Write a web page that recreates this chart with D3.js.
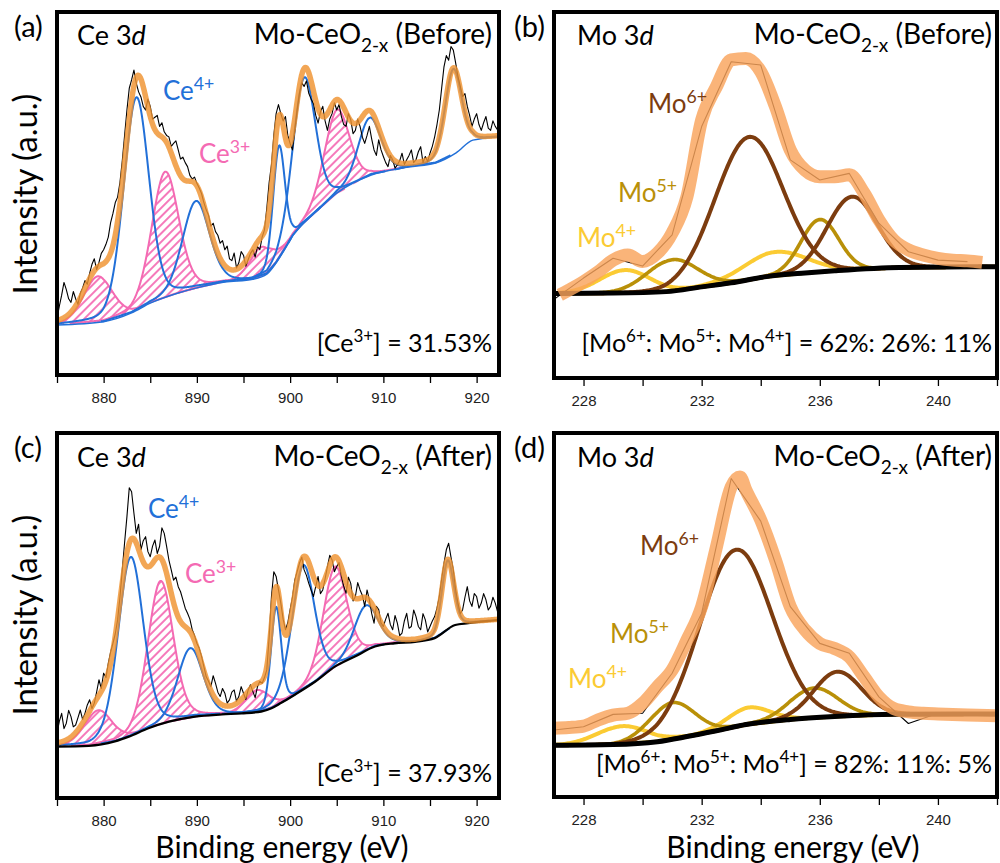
<!DOCTYPE html>
<html>
<head>
<meta charset="utf-8">
<script src="https://cdn.jsdelivr.net/npm/d3@7/dist/d3.min.js"></script>
<style>
  body { margin: 0; background: #fff; }
  svg text { font-family: Lato, "Open Sans", sans-serif; }
  .tick text { font-family: "Liberation Sans", Arial, sans-serif; font-size: 15px; }
</style>
</head>
<body>
<svg id="fig" width="1000" height="863"></svg>
<script>
// intensities are arbitrary units, 0-100 over each panel's height

// axes
const ceTicks = [875, 880, 885, 890, 895, 900, 905, 910, 915, 920];
const ceTickLabels = [880, 890, 900, 910, 920];
const moTicks = [228, 230, 232, 234, 236, 238, 240, 242];
const moTickLabels = [228, 232, 236, 240];

// (a) Ce 3d, before -- raw counts every 0.25 eV from 875 eV (one row = 5 eV)
const rawA = [
  15.5, 19, 22, 25.5, 23.5, 21, 20, 23, 21, 19.5, 22.5, 24, 26, 25, 28, 30.5, 32, 29, 31, 33.5,
  34.5, 36, 38, 42, 44.5, 47.5, 49, 53, 59, 66, 73, 79, 81.3, 84, 80.4, 78, 76.6, 74, 73, 76,
  74, 70.5, 71, 71.5, 68.5, 69.5, 67, 66, 65.6, 63, 63.8, 64.5, 62, 59.5, 60, 58.5, 57.4, 55, 54, 54.5,
  52.8, 51.5, 50, 47.5, 45.5, 44, 41, 41.8, 39.5, 38.5, 36.3, 37, 34.5, 35.5, 32, 31.5, 33.6, 29.5, 30.9, 34,
  33, 30, 31.8, 33.5, 34.5, 32.5, 35.4, 34.5, 38, 40, 46, 53, 58, 66, 72, 74.5, 72, 70, 71.2, 66,
  63.8, 62, 67.4, 73, 77.6, 80.5, 79.5, 81, 77.6, 76, 74.8, 71.5, 69.4, 72.5, 74, 70, 67.4, 70.5, 72, 75,
  73, 74.5, 71.2, 69, 68.5, 72, 70.3, 66.5, 67.4, 70.5, 68.5, 65.5, 63.8, 66, 68.5, 65, 62, 60.5, 64.8, 62,
  60.2, 58.5, 57.4, 60.5, 59.3, 57, 57.9, 59, 61.1, 58, 59.3, 60.5, 62, 58.5, 59.3, 61.5, 62.9, 58.5, 60.2, 58.8,
  61.1, 63, 65.6, 69, 73, 79, 84.9, 88, 86.7, 90.5, 89.5, 86, 82.2, 79.5, 76.7, 77.5, 74, 71.5, 68.5, 70.5,
  72, 69, 67.4, 69.5, 71.2, 68, 67.4, 70, 68.5, 67.5, 66.7];
const bgA = [[875, 13.8], [880, 14.7], [883, 17.1], [885, 19.8], [888, 22.6], [890, 24.0],
  [893, 25.6], [896, 26.4], [897.5, 27.8], [898.5, 30.9], [899.5, 35], [900.3, 38.5],
  [901.2, 41.2], [903, 45.5], [905, 50.1], [908.7, 55.1], [912.7, 57.3], [915.6, 58.4],
  [917.8, 61.2], [919.6, 64.7], [922.5, 65.6]];
const ce4CenterA = [883.5, 889.9, 898.8, 901.5, 908.5, 917.5];
const ce4HeightA = [58.7, 24, 31, 40, 16, 23.5];
const ce4FwhmA = [3.2, 3.4, 1.5, 2.9, 2.9, 2.1];
const ce3CenterA = [879.4, 886.6, 896.9, 905.0];
const ce3HeightA = [12.6, 34.7, 8, 23];
const ce3FwhmA = [3.6, 3.4, 3.0, 3.2];

// (c) Ce 3d, after
const rawC = [
  17.7, 21, 23.2, 19, 20.5, 24, 22.3, 19.5, 20.0, 22, 24.1, 21.5, 23.2, 25.5, 26.9, 24.5, 26.0, 29, 32.4, 30,
  34.2, 33, 36.9, 40, 42.4, 45, 48.8, 55, 62.5, 70, 77.1, 85, 83.9, 78, 72.5, 75, 68, 70.5, 71.6, 67.5,
  66.1, 69, 70.7, 67, 68.9, 74, 72.5, 69, 65.2, 62.5, 59.7, 60.5, 57.9, 56.5, 54.3, 52, 50.6, 49, 46.1, 44.5,
  42.4, 41, 38.8, 36, 33.2, 32, 30.5, 33.5, 31.4, 29, 27.8, 30, 28.7, 26, 26.9, 29, 29.6, 26.5, 27.8, 30.5,
  28.7, 27, 29.6, 31, 29.2, 27.5, 30.5, 32, 31.4, 33, 35.1, 44, 55.2, 62, 60.7, 57, 53.4, 49, 46.1, 48,
  51.6, 55, 59.7, 62, 64.3, 66, 62.5, 61, 58.8, 57, 55.2, 58, 60.7, 56, 57.0, 60, 63.4, 66.5, 65.2, 62,
  63.4, 64.5, 60.7, 58, 56.1, 60.5, 58.8, 54, 55.2, 59, 57.0, 55.5, 52.5, 57, 54.3, 50.5, 47.9, 52.5, 51.6, 48,
  47.0, 49, 50.6, 47.5, 46.1, 50, 47.9, 44.5, 45.2, 48.5, 50.6, 46.5, 47.0, 51.5, 49.7, 47, 46.1, 50.5, 48.8, 45.5,
  47.0, 48.5, 49.7, 52, 55.2, 60, 64.3, 68, 69.8, 66, 62.5, 57, 53.4, 50.5, 51.6, 55, 57.9, 54, 52.5, 56,
  55.2, 52, 53.4, 56, 54.3, 51.5, 52.5, 55, 53.4, 51, 51.6];
const bgC = [[875, 14.1], [878.4, 14.3], [881.2, 15.5], [882.7, 16.8], [884.8, 19.1], [887, 20.9],
  [889.8, 22.3], [892.7, 22.9], [894.8, 23.2], [896.9, 23.7], [898, 24.6], [899, 26],
  [900.5, 28.3], [902.7, 31.9], [904.8, 36], [906.9, 38.7], [909.1, 41.5], [911.2, 42.4],
  [913.4, 42.8], [915.5, 43.8], [917.7, 47.4], [919.1, 47.9], [922.5, 48.8]];
const ce4CenterC = [882.9, 889.3, 898.5, 901.4, 908.1, 916.9];
const ce4HeightC = [49, 19, 27, 34, 12.5, 19];
const ce4FwhmC = [3.2, 3.2, 1.3, 2.9, 3.0, 1.5];
const ce3CenterC = [879.4, 886.1, 896.5, 904.8];
const ce3HeightC = [9.3, 39.3, 6, 27.4];
const ce3FwhmC = [3.5, 3.2, 3.0, 3.0];

// (b) Mo 3d, before -- raw counts every 1 eV from 227 eV
const rawB = [21.5, 27.3, 32.7, 30.6, 39.1, 68.7, 86.4, 85.5, 59.6, 54.1, 55.9, 42.3, 34.5, 32.2, 31.8];
const envB = [[227.2, 22.7], [227.5, 24], [228, 26.3], [228.5, 29], [229, 32.2], [229.5, 33.6],
  [230, 31.8], [230.5, 34.1], [231, 39.6], [231.5, 49.5], [232, 70.5], [232.5, 79.6],
  [233, 86.9], [233.5, 87.3], [234, 83.7], [234.5, 74.1], [235, 62.3], [235.5, 56.8],
  [236, 55], [236.5, 55], [237, 55.5], [237.5, 50.5], [238, 43.2], [238.5, 37.7],
  [239, 35], [239.5, 33.6], [240, 32.7], [240.5, 32.2], [241, 32], [241.5, 31.6]];
const bgB = [[227, 23.1], [229, 23.2], [230.8, 23.6], [232, 24.9], [233, 26.0], [234.2, 27.7],
  [235.5, 28.7], [236.5, 29.3], [238.7, 30.2], [242, 30.4]];
const mo6CenterB = [233.6, 237.1], mo6HeightB = [39, 20], mo6FwhmB = [2.7, 2.0];
const mo5CenterB = [231.0, 236.0], mo5HeightB = [8.5, 14.3], mo5FwhmB = [2.0, 1.5];
const mo4CenterB = [229.4, 234.5], mo4HeightB = [6.2, 6.5], mo4FwhmB = [2.0, 2.5];

// (d) Mo 3d, after
const rawD = [18.4, 19.3, 22.7, 23, 34, 50.5, 87.5, 75.8, 52.3, 42.2, 39.5, 27.5, 20.2, 23, 22.5, 22.3];
const envD = [[227, 18.9], [227.5, 19.1], [228, 19.5], [228.5, 21.2], [229, 22.5], [229.5, 23],
  [230, 25.7], [230.5, 30.3], [231, 34.9], [231.5, 43.1], [232, 52.3], [232.5, 68.7],
  [233, 85.2], [233.3, 87.9], [233.5, 84.3], [234, 76.1], [234.5, 65.1], [235, 52.3],
  [235.5, 45.9], [236, 42.2], [236.5, 40.8], [237, 38.5], [237.5, 33], [238, 27.5],
  [238.5, 24.3], [239, 23.4], [239.5, 23], [240, 22.8], [241, 22.5], [242, 22.3]];
const bgD = [[227, 14.2], [229, 14.4], [230.5, 15.2], [231.5, 16.6], [232.5, 18.2], [233.5, 19.9],
  [235, 21.3], [236.5, 22.1], [238.5, 22.7], [242, 22.8]];
const mo6CenterD = [233.15, 236.6], mo6HeightD = [48.6, 12.3], mo6FwhmD = [2.9, 1.9];
const mo5CenterD = [231.0, 235.8], mo5HeightD = [10, 8.2], mo5FwhmD = [1.8, 1.9];
const mo4CenterD = [229.3, 233.6], mo4HeightD = [4.9, 4.6], mo4FwhmD = [2.0, 1.7];

// colours
const blue = "#2270d8", pink = "#f46ab3", orangeCe = "#ef9330", orangeMo = "#f9a35b";
const brown = "#7c3c0f", gold = "#b99008", yellow = "#fbcb33";

const svg = d3.select("#fig");
const defs = svg.append("defs");
const hatch = defs.append("pattern").attr("id", "hatch")
  .attr("patternUnits", "userSpaceOnUse").attr("width", 6).attr("height", 6)
  .attr("patternTransform", "rotate(45)");
hatch.append("line").attr("x1", 3).attr("y1", 0).attr("x2", 3).attr("y2", 6)
  .attr("stroke", pink).attr("stroke-width", 1.8);

// Gaussian-Lorentzian line shape (m = Lorentzian share)
function peak(e, c, h, w, m) {
  const t = (e - c) / w;
  return h * (m / (1 + 4 * t * t) + (1 - m) * Math.exp(-4 * Math.LN2 * t * t));
}

// text with sub/superscripts and italics
function richText(x, y, parts, size, color, anchor) {
  const t = svg.append("text").attr("x", x).attr("y", y).attr("font-size", size)
    .attr("fill", color).attr("text-anchor", anchor || "start");
  let shift = 0;
  parts.forEach(([s, mode]) => {
    const sp = t.append("tspan").text(s);
    const target = mode === "sup" ? -0.4 * size : mode === "sub" ? 0.3 * size : 0;
    if (target - shift !== 0) sp.attr("dy", target - shift);
    shift = target;
    if (mode === "sup" || mode === "sub") sp.attr("font-size", size * 0.68);
    if (mode === "it") sp.attr("font-style", "italic");
  });
  return t;
}

function drawPanel(p) {
  const {x0, y0, x1, y1} = p.box;
  const [lo, hi] = p.domain;
  const x = d3.scaleLinear().domain(p.domain).range([x0, x1]);
  const y = d3.scaleLinear().domain([0, 100]).range([y1, y0]);
  const bg = d3.scaleLinear().domain(p.bg.map(d => d[0])).range(p.bg.map(d => d[1])).clamp(true);

  defs.append("clipPath").attr("id", "clip-" + p.id).append("rect")
    .attr("x", x0).attr("y", y0).attr("width", x1 - x0).attr("height", y1 - y0);
  const g = svg.append("g").attr("clip-path", `url(#clip-${p.id})`);

  const line = d3.line().x(d => x(d[0])).y(d => y(d[1]));
  const topLine = d3.line().x(d => x(d[0])).y(d => y(d[2]));
  const area = d3.area().x(d => x(d[0])).y0(d => y(d[1])).y1(d => y(d[2]));

  // each component sits on the background
  const compCurves = p.comps.map(c => c.center.map((ctr, i) => {
    const w = c.fwhm[i];
    return d3.range(Math.max(lo, ctr - 3 * w), Math.min(hi, ctr + 3 * w), 0.04)
      .map(e => [e, bg(e), bg(e) + peak(e, ctr, c.height[i], w, p.mix)]);
  }));

  p.comps.forEach((c, k) => {
    if (!c.hatch) return;
    compCurves[k].forEach(pts => g.append("path").datum(pts).attr("d", area).attr("fill", "url(#hatch)"));
  });
  p.comps.forEach((c, k) => {
    compCurves[k].forEach(pts => g.append("path").datum(pts).attr("d", topLine)
      .attr("fill", "none").attr("stroke", c.color).attr("stroke-width", c.width));
  });

  // background
  g.append("path").datum(p.bg).attr("d", line.curve(d3.curveMonotoneX))
    .attr("fill", "none").attr("stroke", p.bgColor).attr("stroke-width", p.bgWidth);
  line.curve(d3.curveLinear);

  // raw data
  const rawPts = p.raw.map((v, i) => [p.rawStart + i * p.rawStep, v]);
  g.append("path").datum(rawPts).attr("d", line)
    .attr("fill", "none").attr("stroke", "#000").attr("stroke-width", 1.1)
    .attr("stroke-linejoin", "round");

  // envelope
  let envPts;
  if (p.env) {
    envPts = p.env;
  } else {
    envPts = d3.range(lo, hi + 0.02, 0.04).map(e => {
      let s = bg(e);
      p.comps.forEach(c => c.center.forEach((ctr, i) => { s += peak(e, ctr, c.height[i], c.fwhm[i], p.mix); }));
      return [e, s];
    });
  }
  g.append("path").datum(envPts).attr("d", line.curve(d3.curveMonotoneX))
    .attr("fill", "none").attr("stroke", p.envColor).attr("stroke-width", p.envWidth)
    .attr("stroke-opacity", 0.82).attr("stroke-linejoin", "round").attr("stroke-linecap", "butt");
  line.curve(d3.curveLinear);

  // x axis
  const axis = d3.axisBottom(x).tickValues(p.ticks).tickSize(6).tickPadding(9)
    .tickFormat(d => p.tickLabels.includes(d) ? d : "");
  const ax = svg.append("g").attr("transform", `translate(0,${y1 + 2})`).call(axis);
  ax.select(".domain").remove();
  ax.selectAll(".tick line").attr("stroke", "#000").attr("stroke-width", 1.3);
  ax.selectAll(".tick text").attr("fill", "#222");

  // frame
  svg.append("rect").attr("x", x0).attr("y", y0).attr("width", x1 - x0).attr("height", y1 - y0)
    .attr("fill", "none").attr("stroke", "#000").attr("stroke-width", 4);
}

drawPanel({
  id: "a", box: {x0: 57, y0: 12, x1: 499, y1: 375}, domain: [875, 922.4],
  ticks: ceTicks, tickLabels: ceTickLabels, mix: 0.2,
  raw: rawA, rawStart: 875, rawStep: 0.25, bg: bgA, bgColor: blue, bgWidth: 1.5,
  envColor: orangeCe, envWidth: 5.5,
  comps: [
    {center: ce3CenterA, height: ce3HeightA, fwhm: ce3FwhmA, color: pink, width: 2, hatch: true},
    {center: ce4CenterA, height: ce4HeightA, fwhm: ce4FwhmA, color: blue, width: 2}
  ]
});
drawPanel({
  id: "c", box: {x0: 57, y0: 433, x1: 499, y1: 798}, domain: [875, 922.4],
  ticks: ceTicks, tickLabels: ceTickLabels, mix: 0.2,
  raw: rawC, rawStart: 875, rawStep: 0.25, bg: bgC, bgColor: "#000", bgWidth: 2.3,
  envColor: orangeCe, envWidth: 5.5,
  comps: [
    {center: ce3CenterC, height: ce3HeightC, fwhm: ce3FwhmC, color: pink, width: 2, hatch: true},
    {center: ce4CenterC, height: ce4HeightC, fwhm: ce4FwhmC, color: blue, width: 2}
  ]
});
drawPanel({
  id: "b", box: {x0: 554, y0: 12, x1: 997, y1: 378}, domain: [227, 242],
  ticks: moTicks, tickLabels: moTickLabels, mix: 0,
  raw: rawB, rawStart: 227, rawStep: 1, bg: bgB, bgColor: "#000", bgWidth: 5,
  env: envB, envColor: orangeMo, envWidth: 13,
  comps: [
    {center: mo4CenterB, height: mo4HeightB, fwhm: mo4FwhmB, color: yellow, width: 4},
    {center: mo5CenterB, height: mo5HeightB, fwhm: mo5FwhmB, color: gold, width: 3.6},
    {center: mo6CenterB, height: mo6HeightB, fwhm: mo6FwhmB, color: brown, width: 4}
  ]
});
drawPanel({
  id: "d", box: {x0: 554, y0: 433, x1: 997, y1: 797}, domain: [227, 242],
  ticks: moTicks, tickLabels: moTickLabels, mix: 0,
  raw: rawD, rawStart: 227, rawStep: 1, bg: bgD, bgColor: "#000", bgWidth: 5,
  env: envD, envColor: orangeMo, envWidth: 13,
  comps: [
    {center: mo4CenterD, height: mo4HeightD, fwhm: mo4FwhmD, color: yellow, width: 4},
    {center: mo5CenterD, height: mo5HeightD, fwhm: mo5FwhmD, color: gold, width: 3.6},
    {center: mo6CenterD, height: mo6HeightD, fwhm: mo6FwhmD, color: brown, width: 4}
  ]
});

// panel letters and titles
[["(a)", 14, 37], ["(b)", 514, 37], ["(c)", 14, 458], ["(d)", 514, 458]].forEach(([s, px, py]) =>
  svg.append("text").attr("x", px).attr("y", py).attr("font-size", 29).text(s));

const ts = 27;
richText(77, 45, [["Ce 3"], ["d", "it"]], ts, "#000");
richText(77, 467, [["Ce 3"], ["d", "it"]], ts, "#000");
richText(577, 45, [["Mo 3"], ["d", "it"]], ts, "#000");
richText(577, 467, [["Mo 3"], ["d", "it"]], ts, "#000");
richText(492, 44, [["Mo-CeO"], ["2-x", "sub"], [" (Before)"]], 28, "#000", "end");
richText(992, 44, [["Mo-CeO"], ["2-x", "sub"], [" (Before)"]], 28, "#000", "end");
richText(492, 466, [["Mo-CeO"], ["2-x", "sub"], [" (After)"]], 28, "#000", "end");
richText(992, 466, [["Mo-CeO"], ["2-x", "sub"], [" (After)"]], 28, "#000", "end");

// species labels
const ls = 26;
richText(163, 100, [["Ce"], ["4+", "sup"]], ls, blue);
richText(199, 163, [["Ce"], ["3+", "sup"]], ls, pink);
richText(148, 518, [["Ce"], ["4+", "sup"]], ls, blue);
richText(185, 583, [["Ce"], ["3+", "sup"]], ls, pink);
richText(648, 113, [["Mo"], ["6+", "sup"]], ls, brown);
richText(618, 202, [["Mo"], ["5+", "sup"]], ls, gold);
richText(577, 247, [["Mo"], ["4+", "sup"]], ls, yellow);
richText(640, 555, [["Mo"], ["6+", "sup"]], ls, brown);
richText(610, 643, [["Mo"], ["5+", "sup"]], ls, gold);
richText(568, 688, [["Mo"], ["4+", "sup"]], ls, yellow);

// ratios
const rs = 25;
richText(492, 352, [["[Ce"], ["3+", "sup"], ["] = 31.53%"]], rs, "#000", "end");
richText(492, 782, [["[Ce"], ["3+", "sup"], ["] = 37.93%"]], rs, "#000", "end");
richText(992, 352, [["[Mo"], ["6+", "sup"], [": Mo"], ["5+", "sup"], [": Mo"], ["4+", "sup"], ["] = 62%: 26%: 11%"]], rs, "#000", "end");
richText(992, 773, [["[Mo"], ["6+", "sup"], [": Mo"], ["5+", "sup"], [": Mo"], ["4+", "sup"], ["] = 82%: 11%: 5%"]], rs, "#000", "end");

// axis titles
svg.append("text").attr("transform", "translate(37,194) rotate(-90)").attr("text-anchor", "middle")
  .attr("font-size", 33).text("Intensity (a.u.)");
svg.append("text").attr("transform", "translate(37,615) rotate(-90)").attr("text-anchor", "middle")
  .attr("font-size", 33).text("Intensity (a.u.)");
svg.append("text").attr("x", 282).attr("y", 858).attr("text-anchor", "middle")
  .attr("font-size", 30).text("Binding energy (eV)");
svg.append("text").attr("x", 793).attr("y", 858).attr("text-anchor", "middle")
  .attr("font-size", 30).text("Binding energy (eV)");
</script>
</body>
</html>
